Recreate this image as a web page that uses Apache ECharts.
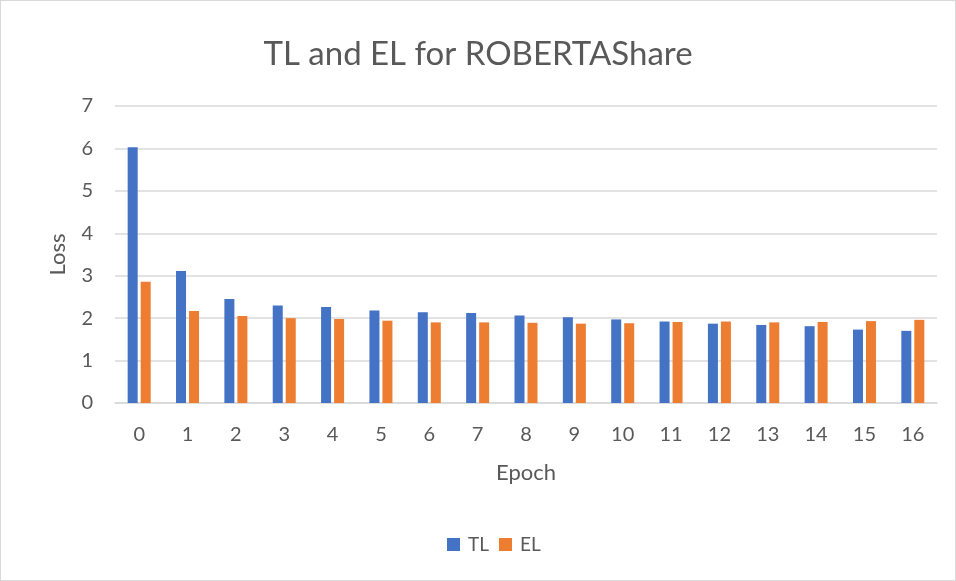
<!DOCTYPE html>
<html>
<head>
<meta charset="utf-8">
<script src="https://cdn.jsdelivr.net/npm/echarts@6/dist/echarts.min.js"></script>
<style>
html,body{margin:0;padding:0;background:#fff;}
#c{position:absolute;left:0;top:0;width:954px;height:579px;border:1px solid #d9d9d9;}
</style>
</head>
<body>
<div id="c"></div>
<script>
const categories = ['0','1','2','3','4','5','6','7','8','9','10','11','12','13','14','15','16'];
const tlValues = [6.03,3.11,2.45,2.30,2.26,2.18,2.14,2.12,2.06,2.02,1.97,1.92,1.87,1.84,1.81,1.73,1.70];
const elValues = [2.86,2.17,2.05,2.00,1.98,1.94,1.90,1.90,1.89,1.87,1.88,1.91,1.92,1.90,1.91,1.93,1.96];
const yTicks = [0,1,2,3,4,5,6,7];

const chart = echarts.init(document.getElementById('c'), null, {renderer:'canvas'});
const fontFamily = 'Lato, "Open Sans", sans-serif';
chart.setOption({
  animation:false,
  textStyle:{fontFamily:fontFamily},
  title:{
    text:'TL and EL for ROBERTAShare',
    left:'center', top:32,
    textStyle:{fontSize:33, fontWeight:'normal', color:'#595959', fontFamily:fontFamily}
  },
  legend:{
    bottom:21, left:441,
    itemWidth:13, itemHeight:13, itemGap:10,
    icon:'rect',
    textStyle:{fontSize:19, color:'#595959', fontFamily:fontFamily, padding:[0,0,0,3]},
    data:['TL','EL']
  },
  grid:{left:114, right:18, top:105, bottom:177, containLabel:false},
  xAxis:{
    type:'category', data:categories,
    name:'Epoch', nameLocation:'middle', nameGap:59,
    nameTextStyle:{fontSize:22, color:'#595959'},
    axisLine:{lineStyle:{color:'#d9d9d9', width:1.5}},
    axisTick:{show:false},
    axisLabel:{fontSize:20, color:'#595959', margin:22}
  },
  yAxis:{
    type:'value', min:0, max:7, interval:1,
    name:'Loss', nameLocation:'middle', nameGap:46, nameRotate:90,
    nameTextStyle:{fontSize:22, color:'#595959'},
    axisLine:{show:false}, axisTick:{show:false},
    axisLabel:{fontSize:20, color:'#595959', margin:22,
      formatter:function(v){return yTicks.indexOf(v)>=0?String(v):'';}},
    splitLine:{lineStyle:{color:'#d9d9d9', width:1.5}}
  },
  series:[
    {name:'TL', type:'bar', data:tlValues, barWidth:10, barGap:'30%',
     itemStyle:{color:'#4472C4'}},
    {name:'EL', type:'bar', data:elValues, barWidth:10, barGap:'30%',
     itemStyle:{color:'#ED7D31'}}
  ]
});
</script>
</body>
</html>
